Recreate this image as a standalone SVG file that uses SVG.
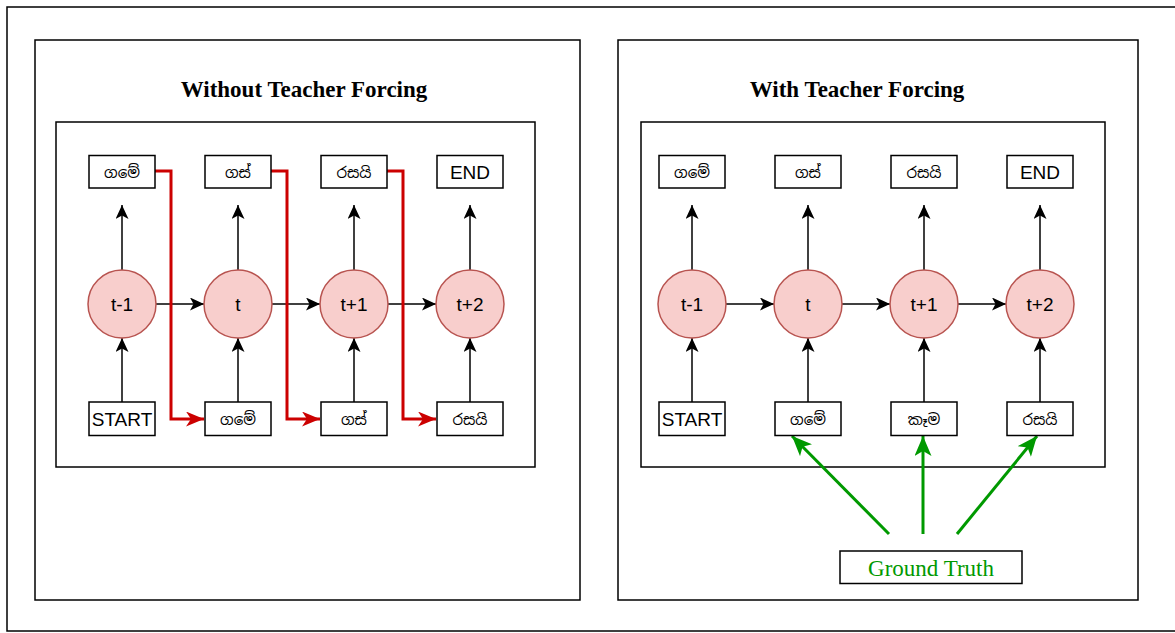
<svg xmlns="http://www.w3.org/2000/svg" width="1175" height="633" viewBox="0 0 1175 633">
<style>
.frame{fill:#fff;stroke:#000;stroke-width:1.5}
.box{fill:#fff;stroke:#000;stroke-width:1.5}
.circ{fill:#f8cecc;stroke:#b85450;stroke-width:1.5}
.lbl{font-family:"Liberation Sans",Arial,sans-serif;font-size:19px;text-anchor:middle;dominant-baseline:central;fill:#000}
.sin{font-family:"Noto Sans Sinhala","Noto Sans","Liberation Sans",sans-serif;font-size:15px;text-anchor:middle;dominant-baseline:central;fill:#000}
.title{font-family:"Liberation Serif","Times New Roman",serif;font-size:23px;font-weight:bold;text-anchor:middle;fill:#000}
.gt{font-family:"Liberation Serif","Times New Roman",serif;font-size:23px;text-anchor:middle;fill:#009900}
.blk{fill:none;stroke:#000;stroke-width:1.5;marker-end:url(#ab)}
.red{fill:none;stroke:#cc0000;stroke-width:3;marker-end:url(#ar)}
.grn{fill:none;stroke:#009900;stroke-width:3;marker-end:url(#ag)}
</style>
<defs>
<marker id="ab" markerUnits="userSpaceOnUse" viewBox="0 0 14 13" refX="14" refY="6.5" markerWidth="14" markerHeight="13" orient="auto"><path d="M0,0 L14,6.5 L0,13 L3.5,6.5 z" fill="#000"/></marker>
<marker id="ar" markerUnits="userSpaceOnUse" viewBox="0 0 18 15" refX="18" refY="7.5" markerWidth="18" markerHeight="15" orient="auto"><path d="M0,0 L18,7.5 L0,15 L5,7.5 z" fill="#cc0000"/></marker>
<marker id="ag" markerUnits="userSpaceOnUse" viewBox="0 0 20 17" refX="20" refY="8.5" markerWidth="20" markerHeight="17" orient="auto"><path d="M0,0 L20,8.5 L0,17 L5,8.5 z" fill="#009900"/></marker>
</defs>
<rect x="0" y="0" width="1175" height="633" fill="#fff"/>
<rect x="7" y="7" width="1190" height="624" fill="none" stroke="#000" stroke-width="1.5"/>

<g id="panel-left">
<rect class="frame" x="35" y="40" width="545" height="560"/>
<text class="title" x="304" y="97">Without Teacher Forcing</text>
<rect class="frame" x="56" y="122" width="479" height="345"/>
</g>
<g id="panel-right">
<rect class="frame" x="618" y="40" width="520" height="560"/>
<text class="title" x="857" y="97">With Teacher Forcing</text>
<rect class="frame" x="641" y="122" width="464" height="345"/>
</g>

<g id="connectors">
<path class="blk" d="M122,270 V205"/>
<path class="blk" d="M238,270 V205"/>
<path class="blk" d="M354,270 V205"/>
<path class="blk" d="M470,270 V205"/>
<path class="blk" d="M122,402 V338"/>
<path class="blk" d="M238,402 V338"/>
<path class="blk" d="M354,402 V338"/>
<path class="blk" d="M470,402 V338"/>
<path class="blk" d="M156,304 H204"/>
<path class="blk" d="M272,304 H320"/>
<path class="blk" d="M388,304 H436"/>
<path class="red" d="M155,171 H171 V419 H204"/>
<path class="red" d="M271,171 H287 V419 H320"/>
<path class="red" d="M387,171 H403 V419 H436"/>
<path class="blk" d="M692,270 V205"/>
<path class="blk" d="M808,270 V205"/>
<path class="blk" d="M924,270 V205"/>
<path class="blk" d="M1040,270 V205"/>
<path class="blk" d="M692,402 V338"/>
<path class="blk" d="M808,402 V338"/>
<path class="blk" d="M924,402 V338"/>
<path class="blk" d="M1040,402 V338"/>
<path class="blk" d="M726,304 H774"/>
<path class="blk" d="M842,304 H890"/>
<path class="blk" d="M958,304 H1006"/>
<path class="grn" d="M889,534 L792,436"/>
<path class="grn" d="M923,534 V436"/>
<path class="grn" d="M957,534 L1037,436"/>
</g>

<g id="l-out-1"><rect class="box" x="89" y="155.5" width="66" height="32.5"/><text class="sin" x="122" y="172">ගමේ</text></g>
<g id="l-out-2"><rect class="box" x="205" y="155.5" width="66" height="32.5"/><text class="sin" x="238" y="172">ගස්</text></g>
<g id="l-out-3"><rect class="box" x="321" y="155.5" width="66" height="32.5"/><text class="sin" x="354" y="172">රසයි</text></g>
<g id="l-out-4"><rect class="box" x="437" y="155.5" width="66" height="32.5"/><text class="lbl" x="470" y="172">END</text></g>
<g id="l-rnn-1"><circle class="circ" cx="122" cy="304" r="34"/><text class="lbl" x="122" y="304">t-1</text></g>
<g id="l-rnn-2"><circle class="circ" cx="238" cy="304" r="34"/><text class="lbl" x="238" y="304">t</text></g>
<g id="l-rnn-3"><circle class="circ" cx="354" cy="304" r="34"/><text class="lbl" x="354" y="304">t+1</text></g>
<g id="l-rnn-4"><circle class="circ" cx="470" cy="304" r="34"/><text class="lbl" x="470" y="304">t+2</text></g>
<g id="l-in-1"><rect class="box" x="89" y="402" width="66" height="33.5"/><text class="lbl" x="122" y="419">START</text></g>
<g id="l-in-2"><rect class="box" x="205" y="402" width="66" height="33.5"/><text class="sin" x="238" y="419">ගමේ</text></g>
<g id="l-in-3"><rect class="box" x="321" y="402" width="66" height="33.5"/><text class="sin" x="354" y="419">ගස්</text></g>
<g id="l-in-4"><rect class="box" x="437" y="402" width="66" height="33.5"/><text class="sin" x="470" y="419">රසයි</text></g>

<g id="r-out-1"><rect class="box" x="659" y="155.5" width="66" height="32.5"/><text class="sin" x="692" y="172">ගමේ</text></g>
<g id="r-out-2"><rect class="box" x="775" y="155.5" width="66" height="32.5"/><text class="sin" x="808" y="172">ගස්</text></g>
<g id="r-out-3"><rect class="box" x="891" y="155.5" width="66" height="32.5"/><text class="sin" x="924" y="172">රසයි</text></g>
<g id="r-out-4"><rect class="box" x="1007" y="155.5" width="66" height="32.5"/><text class="lbl" x="1040" y="172">END</text></g>
<g id="r-rnn-1"><circle class="circ" cx="692" cy="304" r="34"/><text class="lbl" x="692" y="304">t-1</text></g>
<g id="r-rnn-2"><circle class="circ" cx="808" cy="304" r="34"/><text class="lbl" x="808" y="304">t</text></g>
<g id="r-rnn-3"><circle class="circ" cx="924" cy="304" r="34"/><text class="lbl" x="924" y="304">t+1</text></g>
<g id="r-rnn-4"><circle class="circ" cx="1040" cy="304" r="34"/><text class="lbl" x="1040" y="304">t+2</text></g>
<g id="r-in-1"><rect class="box" x="659" y="402" width="66" height="33.5"/><text class="lbl" x="692" y="419">START</text></g>
<g id="r-in-2"><rect class="box" x="775" y="402" width="66" height="33.5"/><text class="sin" x="808" y="419">ගමේ</text></g>
<g id="r-in-3"><rect class="box" x="891" y="402" width="66" height="33.5"/><text class="sin" x="924" y="419">කෑම</text></g>
<g id="r-in-4"><rect class="box" x="1007" y="402" width="66" height="33.5"/><text class="sin" x="1040" y="419">රසයි</text></g>

<g id="ground-truth"><rect class="box" x="840" y="551" width="182" height="32.5"/><text class="gt" x="931" y="576">Ground Truth</text></g>
</svg>
